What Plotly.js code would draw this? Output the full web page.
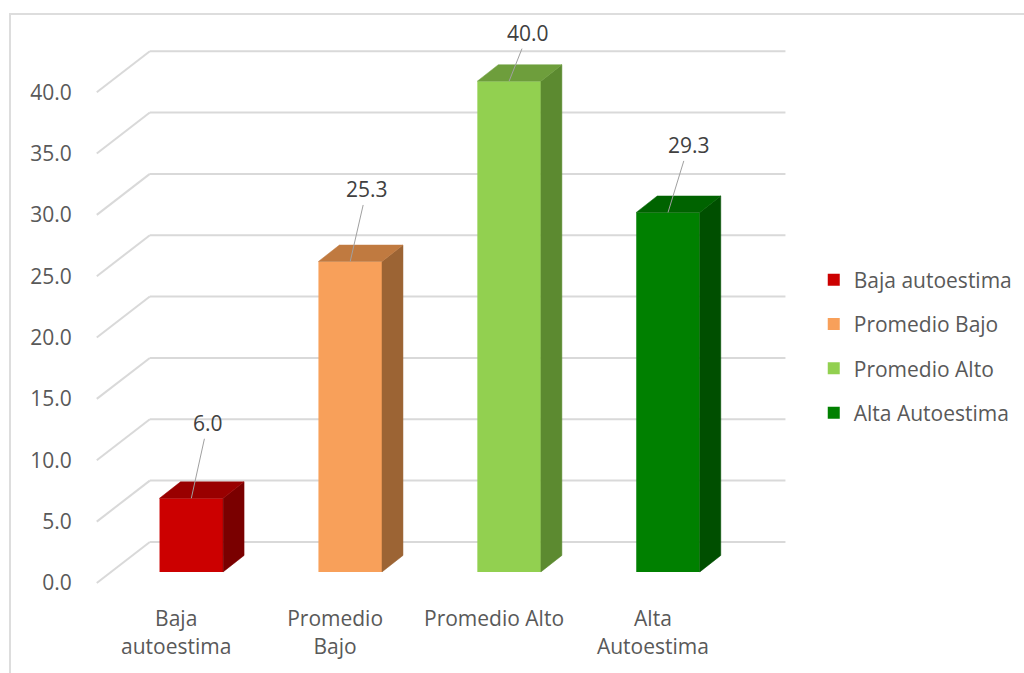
<!DOCTYPE html>
<html>
<head>
<meta charset="utf-8">
<script src="https://cdn.plot.ly/plotly-3.0.1.min.js"></script>
<style>
  html, body { margin: 0; padding: 0; background: #ffffff; }
  #wrap { position: relative; width: 1024px; height: 673px; }
  #chart { width: 1024px; height: 673px; }
  #frame { position: absolute; left: 9px; top: 13px; width: 1030px; height: 700px;
           border-top: 2px solid #DDDDDD; border-left: 2px solid #DDDDDD; pointer-events: none; }
</style>
</head>
<body>
<div id="wrap">
  <div id="chart"></div>
  <div id="frame"></div>
</div>
<script>
// ---------------- data ----------------
const categories = ['Baja autoestima', 'Promedio Bajo', 'Promedio Alto', 'Alta Autoestima'];
const values = [6.0, 25.3, 40.0, 29.3];
const tickLabels = ['Baja<br>autoestima', 'Promedio<br>Bajo', 'Promedio Alto', 'Alta<br>Autoestima'];
const yTickVals = [0, 5, 10, 15, 20, 25, 30, 35, 40];
const yTickText = ['0.0', '5.0', '10.0', '15.0', '20.0', '25.0', '30.0', '35.0', '40.0'];

// ---------------- styles ----------------
const frontColors = ['#CC0000', '#F8A05A', '#92D050', '#008000'];
const sideColors  = ['#7A0000', '#9C6434', '#5C8A30', '#004F00'];
const topColors   = ['#990000', '#C07A40', '#6E9E3C', '#006300'];
const labelDX = [16.5, 16.5, 19, 20.5];
const labelDY = [-75, -72, -48, -67];

// pseudo-3D geometry (axis units)
const WALL_DX = 0.334, WALL_DY = 3.34;   // back wall offset
const BAR_X0 = 0.095, BAR_BASE = 0.9;    // front face offset of bars
const BAR_W = 0.4;
const DEPTH_DX = 0.132, DEPTH_DY = 1.34; // bar depth

const FONT = '"Open Sans", "Noto Sans", sans-serif';
const FS = 21;

// ---------------- traces ----------------
const traces = [];
// front faces (bar traces, drive legend)
categories.forEach((c, i) => {
  traces.push({
    type: 'bar', name: c, x: [i + BAR_X0], y: [values[i]], base: BAR_BASE,
    width: BAR_W, marker: { color: frontColors[i], line: { width: 0 } },
    legendgroup: 'g' + i, hoverinfo: 'skip'
  });
});
// side and top faces
categories.forEach((c, i) => {
  const xr = i + BAR_X0 + BAR_W / 2, xl = xr - BAR_W;
  const b = BAR_BASE, t = values[i] + BAR_BASE;
  traces.push({
    type: 'scatter', mode: 'lines', fill: 'toself', fillcolor: sideColors[i],
    line: { width: 0.5, color: sideColors[i] }, showlegend: false, hoverinfo: 'skip',
    x: [xr, xr + DEPTH_DX, xr + DEPTH_DX, xr, xr],
    y: [b, b + DEPTH_DY, t + DEPTH_DY, t, b]
  });
  traces.push({
    type: 'scatter', mode: 'lines', fill: 'toself', fillcolor: topColors[i],
    line: { width: 0.5, color: topColors[i] }, showlegend: false, hoverinfo: 'skip',
    x: [xl, xl + DEPTH_DX, xr + DEPTH_DX, xr, xl],
    y: [t, t + DEPTH_DY, t + DEPTH_DY, t, t]
  });
});

// ---------------- gridlines (back wall + diagonals) ----------------
const xFront = -0.5, xEnd = categories.length - 0.5;
const shapes = [];
yTickVals.forEach(v => {
  shapes.push({ type: 'line', xref: 'x', yref: 'y', layer: 'below',
    x0: xFront, y0: v, x1: xFront + WALL_DX, y1: v + WALL_DY,
    line: { color: '#D9D9D9', width: 2 } });
  shapes.push({ type: 'line', xref: 'x', yref: 'y', layer: 'below',
    x0: xFront + WALL_DX, y0: v + WALL_DY, x1: xEnd + WALL_DX, y1: v + WALL_DY,
    line: { color: '#D9D9D9', width: 2 } });
});

// ---------------- data labels ----------------
const annotations = categories.map((c, i) => ({
  x: i + BAR_X0, y: values[i] + BAR_BASE, xref: 'x', yref: 'y',
  text: values[i].toFixed(1), showarrow: true, arrowhead: 0, arrowwidth: 1,
  arrowcolor: '#A0A0A0', ax: labelDX[i], ay: labelDY[i], standoff: 0,
  font: { family: FONT, size: FS, color: '#404040' }
}));

// ---------------- layout ----------------
const layout = {
  width: 1024, height: 673,
  margin: { l: 92.2, r: 236.4, t: 48, b: 86.9, pad: 0, autoexpand: false },
  paper_bgcolor: '#ffffff', plot_bgcolor: 'rgba(0,0,0,0)',
  barmode: 'overlay',
  font: { family: FONT, size: FS, color: '#595959' },
  xaxis: {
    range: [-0.53, 3.85], showgrid: false, zeroline: false, showline: false,
    tickvals: [0, 1, 2, 3], ticktext: tickLabels, ticks: 'outside', ticklen: 14,
    tickcolor: 'rgba(0,0,0,0)', tickfont: { family: FONT, size: FS, color: '#595959' },
    fixedrange: true, automargin: false
  },
  yaxis: {
    range: [-0.25, 43.6], showgrid: false, zeroline: false, showline: false,
    tickvals: yTickVals, ticktext: yTickText, ticks: 'outside', ticklen: 15,
    tickcolor: 'rgba(0,0,0,0)', tickfont: { family: FONT, size: FS, color: '#595959' },
    fixedrange: true, automargin: false
  },
  showlegend: true,
  legend: {
    x: 1.037, xanchor: 'left', y: 0.445, yanchor: 'middle',
    font: { family: FONT, size: FS, color: '#595959' },
    traceorder: 'grouped', tracegroupgap: 14, bgcolor: 'rgba(0,0,0,0)'
  },
  shapes: shapes,
  annotations: annotations
};

Plotly.newPlot('chart', traces, layout, { displayModeBar: false, staticPlot: true });
</script>
</body>
</html>
